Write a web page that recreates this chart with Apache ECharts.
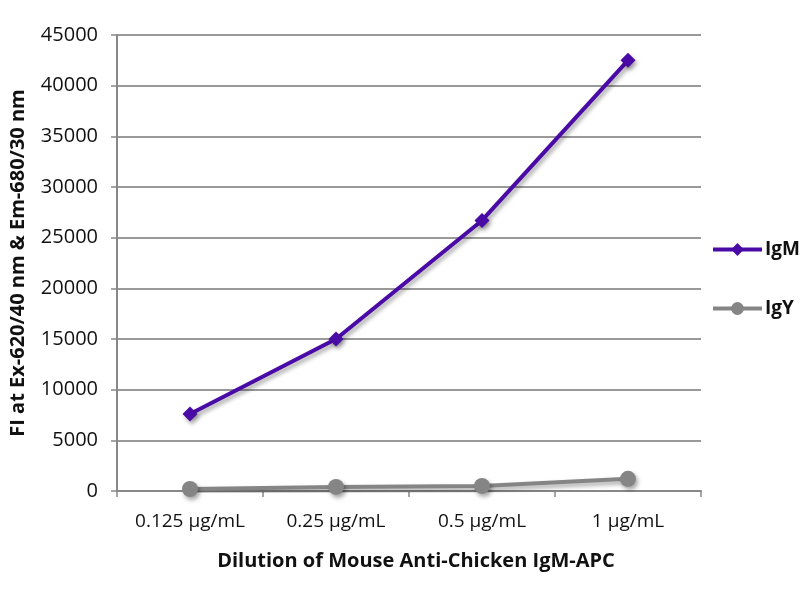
<!DOCTYPE html>
<html>
<head>
<meta charset="utf-8">
<script src="https://cdn.jsdelivr.net/npm/echarts@6/dist/echarts.min.js"></script>
<style>
  html, body { margin: 0; padding: 0; background: #fff; }
  #chart { width: 800px; height: 600px; }
</style>
</head>
<body>
<div id="chart"></div>
<script>
// 数据
var categories = ['0.125 µg/mL', '0.25 µg/mL', '0.5 µg/mL', '1 µg/mL'];
var igmValues = [7600, 15000, 26700, 42500];
var igyValues = [200, 400, 500, 1200];
var yTicks = { min: 0, max: 45000, interval: 5000 };

var font = '"Open Sans", "Noto Sans", sans-serif';
var lineShadow = {
  shadowColor: 'rgba(0,0,0,0.35)',
  shadowBlur: 4,
  shadowOffsetX: 2,
  shadowOffsetY: 3
};

var chart = echarts.init(document.getElementById('chart'));

var option = {
  backgroundColor: '#fff',
  animation: false,
  grid: { left: 117, right: 99, top: 35, bottom: 109 },
  legend: {
    orient: 'vertical',
    left: 711,
    top: 240,
    padding: 0,
    itemGap: 40,
    itemWidth: 49,
    itemHeight: 16,
    lineStyle: { width: 4 },
    textStyle: { fontFamily: font, fontWeight: 'bold', fontSize: 19, color: '#111', padding: [0, 0, 0, -2] },
    data: ['IgM', 'IgY']
  },
  xAxis: {
    type: 'category',
    data: categories,
    boundaryGap: true,
    name: 'Dilution of Mouse Anti-Chicken IgM-APC',
    nameLocation: 'middle',
    nameGap: 60,
    nameTextStyle: { fontFamily: font, fontWeight: 'bold', fontSize: 20, color: '#111', padding: [0, 0, 0, 14] },
    axisLine: { lineStyle: { color: '#888', width: 2 } },
    axisTick: { show: true, length: 6, inside: false, lineStyle: { color: '#888', width: 1.5 } },
    axisLabel: { interval: 0, fontFamily: font, fontSize: 19, color: '#111', margin: 21 }
  },
  yAxis: {
    type: 'value',
    min: yTicks.min,
    max: yTicks.max,
    interval: yTicks.interval,
    name: 'FI at Ex-620/40 nm & Em-680/30 nm',
    nameLocation: 'middle',
    nameGap: 89,
    nameTextStyle: { fontFamily: font, fontWeight: 'bold', fontSize: 20, color: '#111' },
    axisLine: { show: true, lineStyle: { color: '#888', width: 2 } },
    axisTick: { show: true, length: 6, lineStyle: { color: '#888', width: 1.5 } },
    axisLabel: {
      fontFamily: font, fontSize: 20, color: '#111', margin: 19,
      formatter: function (v) { return String(v); }
    },
    splitLine: { show: true, lineStyle: { color: '#999', width: 2 } }
  },
  series: [
    {
      name: 'IgM',
      type: 'line',
      data: igmValues,
      symbol: 'diamond',
      symbolSize: 15,
      color: '#4a0aa6',
      lineStyle: Object.assign({ color: '#4a0aa6', width: 4 }, lineShadow),
      itemStyle: Object.assign({ color: '#4a0aa6' }, lineShadow),
      z: 3
    },
    {
      name: 'IgY',
      type: 'line',
      data: igyValues,
      symbol: 'circle',
      symbolSize: 16,
      color: '#858585',
      lineStyle: Object.assign({ color: '#858585', width: 4 }, lineShadow),
      itemStyle: Object.assign({ color: '#858585' }, lineShadow),
      z: 3
    }
  ]
};

chart.setOption(option);
</script>
</body>
</html>
